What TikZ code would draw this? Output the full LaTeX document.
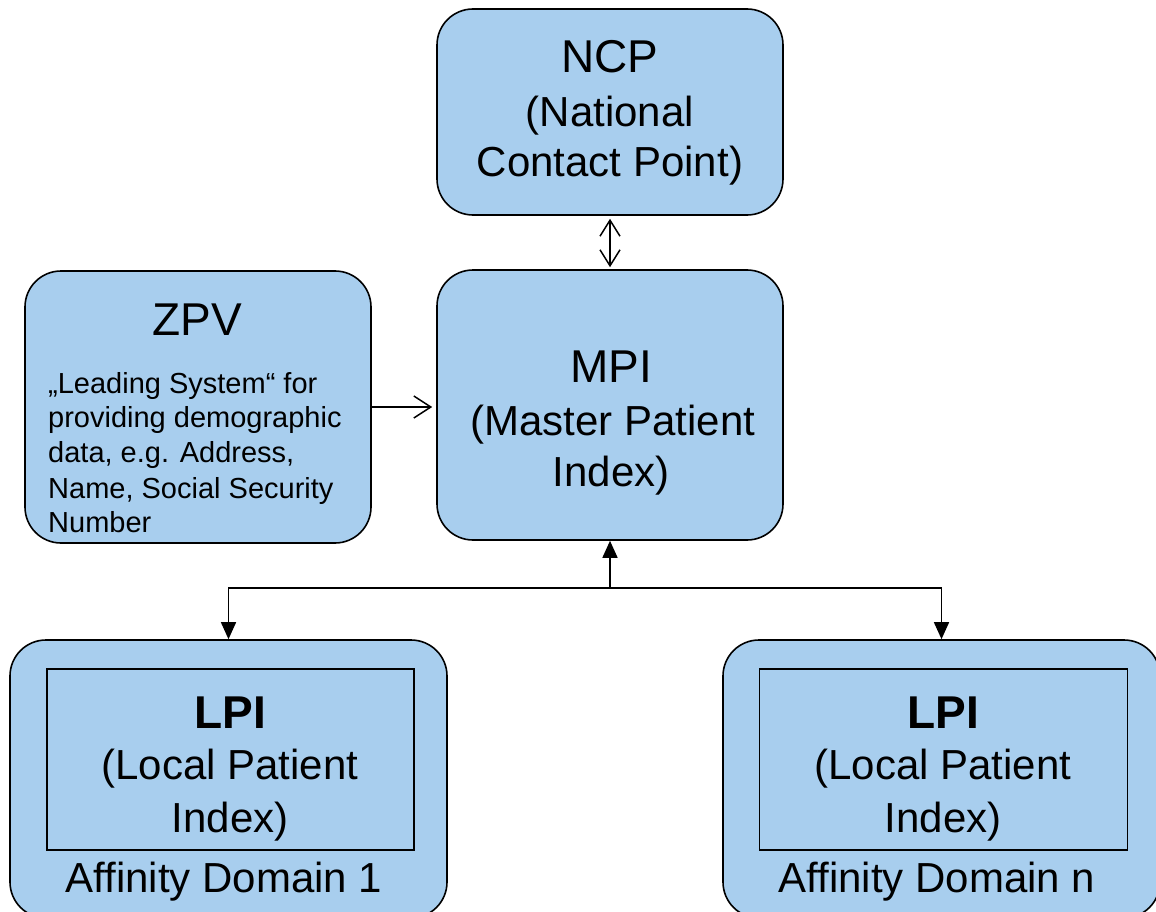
\documentclass[tikz,border=0pt]{standalone}
\usepackage{fontspec}
\setmainfont{Liberation Sans}
\usetikzlibrary{arrows.meta}
\definecolor{boxblue}{RGB}{168,206,238}
\begin{document}
\begin{tikzpicture}[x=1pt,y=-1pt,
  box/.style={draw=black, line width=1.6pt, fill=boxblue, rounded corners=36pt, inner sep=0pt},
  inbox/.style={draw=black, line width=1.3pt, inner sep=0pt},
  txt/.style={inner sep=0pt, anchor=base, font=\fontsize{42}{50}\selectfont},
  ttl/.style={inner sep=0pt, anchor=base, font=\fontsize{46}{52}\selectfont},
  small/.style={inner sep=0pt, anchor=base west, font=\fontsize{29}{35}\selectfont},
  link/.style={line width=1.5pt},
  dbl/.style={link, {Straight Barb[length=16pt,width=20pt,line width=1.5pt]}-{Straight Barb[length=16pt,width=20pt,line width=1.5pt]}},
  openarr/.style={link, -{Straight Barb[length=17pt,width=22pt,line width=1.5pt]}},
  solidarr/.style={link, -{Triangle[length=17pt,width=15pt]}}
]
\useasboundingbox (0,0) rectangle (1156,912);
\clip (0,0) rectangle (1156,912);
% boxes
\node[box, minimum width=346pt, minimum height=206pt] (ncp) at (610,112) {};
\node[box, minimum width=346pt, minimum height=270pt] (mpi) at (610,405) {};
\node[box, minimum width=346pt, minimum height=272pt] (zpv) at (198,407) {};
\node[box, minimum width=437pt, minimum height=278pt] (ad1) at (228.5,779) {};
\node[box, minimum width=437pt, minimum height=278pt] (adn) at (941.5,779) {};
\node[inbox, minimum width=367pt, minimum height=181pt] (lpi1) at (230.5,759.5) {};
\node[inbox, minimum width=368pt, minimum height=181pt] (lpin) at (943.5,759.5) {};
% NCP text
\node[ttl] (ncpA) at (610,73) {NCP};
\node[txt] (ncpB) at (610,127) {(National};
\node[txt] (ncpC) at (610,177) {Contact Point)};
% MPI text
\node[ttl] (mpiA) at (611,382) {MPI};
\node[txt] (mpiB) at (613,435) {(Master Patient};
\node[txt] (mpiC) at (611,486) {Index)};
% ZPV text
\node[ttl] (zpvA) at (197,335) {ZPV};
\node[small] (zpvB) at (48,393) {„Leading System“ for};
\node[small] (zpvC) at (48,427) {providing demographic};
\node[small] (zpvD) at (48,462) {data, e.g. Address,};
\node[small] (zpvE) at (48,498) {Name, Social Security};
\node[small] (zpvF) at (48,532) {Number};
% LPI 1 text
\node[ttl, font=\fontsize{46}{52}\selectfont\bfseries] (l1A) at (230,728) {LPI};
\node[txt] (l1B) at (230,779) {(Local Patient};
\node[txt] (l1C) at (230,832) {Index)};
\node[txt] (l1D) at (224,892) {Affinity Domain 1};
% LPI n text
\node[ttl, font=\fontsize{46}{52}\selectfont\bfseries] (lnA) at (943,728) {LPI};
\node[txt] (lnB) at (943,779) {(Local Patient};
\node[txt] (lnC) at (943,832) {Index)};
\node[txt] (lnD) at (937,892) {Affinity Domain n};
% connectors
\draw[dbl, shorten <=3pt, shorten >=2pt] (ncp.south) -- (mpi.north);
\draw[openarr, shorten >=4pt] (zpv.east) -- (zpv.east -| mpi.west);
\coordinate (j) at (610,588);
\draw[solidarr] (j) -- (mpi.south);
\draw[solidarr] (j) -| (ad1.north);
\draw[solidarr] (j) -| (adn.north);
\end{tikzpicture}
\end{document}
